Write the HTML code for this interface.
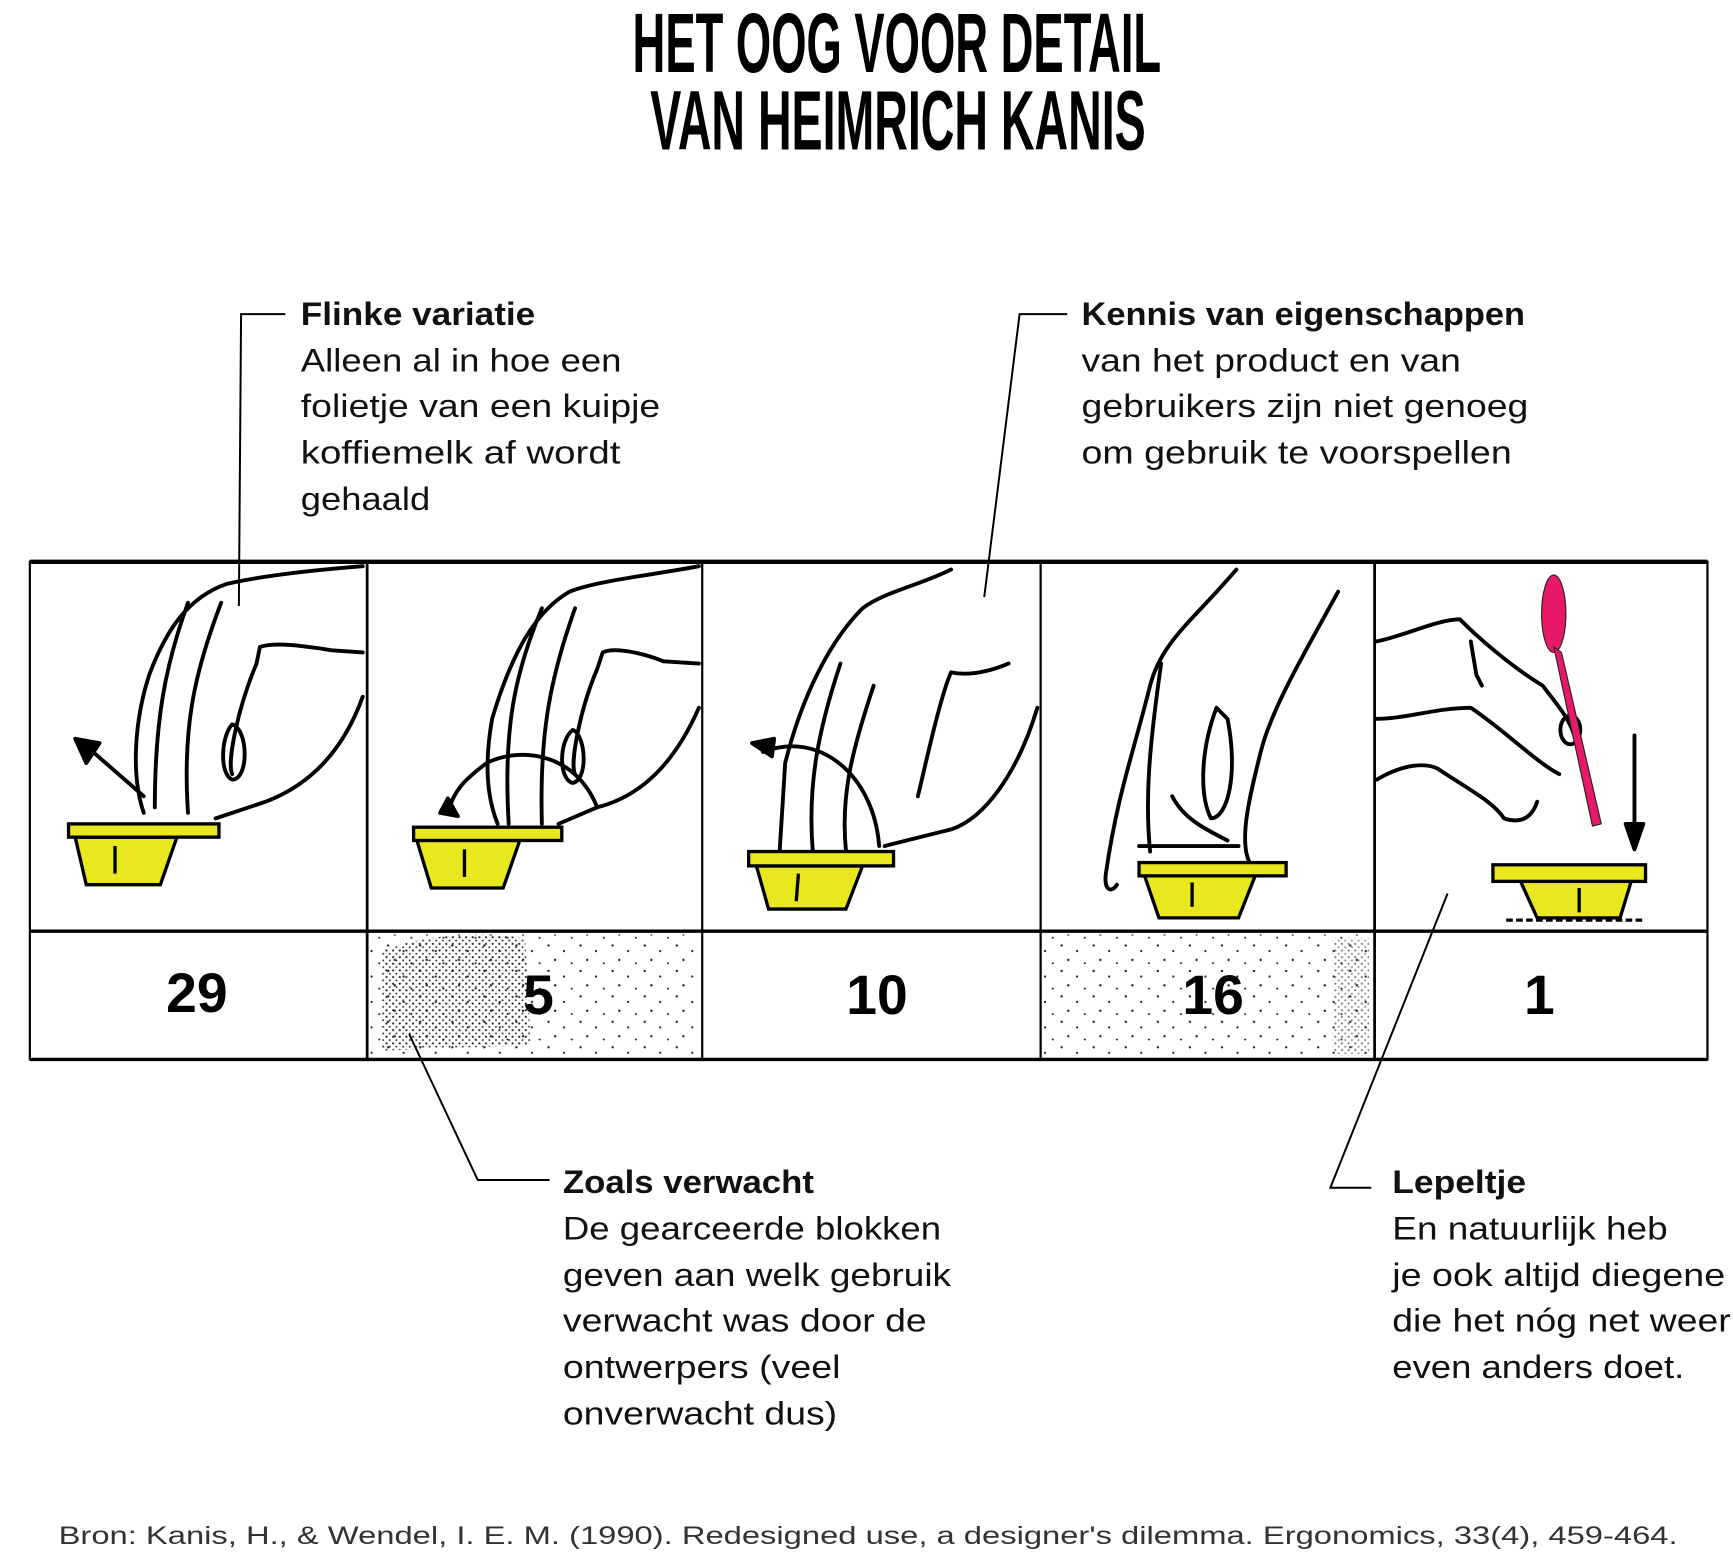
<!DOCTYPE html>
<html><head><meta charset="utf-8"><style>
html,body{margin:0;padding:0;background:#fff;width:1734px;height:1552px;overflow:hidden}
svg{display:block}
.t{font-family:"Liberation Sans",sans-serif;font-size:29px;fill:#111}
.b{font-weight:bold}
.n{font-family:"Liberation Sans",sans-serif;font-weight:bold;font-size:50px;fill:#000;text-anchor:middle}
.h{fill:none;stroke:#000;stroke-width:3.5;stroke-linecap:round;stroke-linejoin:round}
.l{fill:none;stroke:#000;stroke-width:1.8}
</style></head><body>
<svg width="1734" height="1552" viewBox="0 0 1568 1403.4" preserveAspectRatio="none" xmlns="http://www.w3.org/2000/svg">
<defs>
<pattern id="dense" width="6" height="6" patternUnits="userSpaceOnUse">
<circle cx="1.5" cy="1.5" r="1" fill="#222"/><circle cx="4.5" cy="4.5" r="0.9" fill="#333"/>
</pattern>
<pattern id="sparse" width="29" height="23" patternUnits="userSpaceOnUse">
<circle cx="3" cy="4" r="1.1" fill="#222"/><circle cx="17" cy="9" r="1" fill="#222"/><circle cx="9" cy="17" r="1.1" fill="#222"/><circle cx="24" cy="20" r="0.9" fill="#222"/>
</pattern>
</defs>
<!-- Title -->
<text x="811" y="65" text-anchor="middle" textLength="478" lengthAdjust="spacingAndGlyphs" style="font-family:'Liberation Sans Narrow','Liberation Sans',sans-serif;font-weight:bold;font-size:76px">HET OOG VOOR DETAIL</text>
<text x="812" y="135" text-anchor="middle" textLength="448" lengthAdjust="spacingAndGlyphs" style="font-family:'Liberation Sans Narrow','Liberation Sans',sans-serif;font-weight:bold;font-size:76px">VAN HEIMRICH KANIS</text>

<!-- Flinke variatie -->
<text class="t b" x="272" y="294" textLength="212" lengthAdjust="spacingAndGlyphs">Flinke variatie</text>
<text class="t" x="272" y="336" textLength="290" lengthAdjust="spacingAndGlyphs">Alleen al in hoe een</text>
<text class="t" x="272" y="377" textLength="325" lengthAdjust="spacingAndGlyphs">folietje van een kuipje</text>
<text class="t" x="272" y="419" textLength="289" lengthAdjust="spacingAndGlyphs">koffiemelk af wordt</text>
<text class="t" x="272" y="461" textLength="117" lengthAdjust="spacingAndGlyphs">gehaald</text>
<!-- Kennis -->
<text class="t b" x="978" y="294" textLength="401" lengthAdjust="spacingAndGlyphs">Kennis van eigenschappen</text>
<text class="t" x="978" y="336" textLength="343" lengthAdjust="spacingAndGlyphs">van het product en van</text>
<text class="t" x="978" y="377" textLength="404" lengthAdjust="spacingAndGlyphs">gebruikers zijn niet genoeg</text>
<text class="t" x="978" y="419" textLength="389" lengthAdjust="spacingAndGlyphs">om gebruik te voorspellen</text>
<!-- Zoals -->
<text class="t b" x="509" y="1079" textLength="227" lengthAdjust="spacingAndGlyphs">Zoals verwacht</text>
<text class="t" x="509" y="1121" textLength="342" lengthAdjust="spacingAndGlyphs">De gearceerde blokken</text>
<text class="t" x="509" y="1163" textLength="351" lengthAdjust="spacingAndGlyphs">geven aan welk gebruik</text>
<text class="t" x="509" y="1204" textLength="329" lengthAdjust="spacingAndGlyphs">verwacht was door de</text>
<text class="t" x="509" y="1246" textLength="251" lengthAdjust="spacingAndGlyphs">ontwerpers (veel</text>
<text class="t" x="509" y="1288" textLength="248" lengthAdjust="spacingAndGlyphs">onverwacht dus)</text>
<!-- Lepeltje -->
<text class="t b" x="1259" y="1079" textLength="121" lengthAdjust="spacingAndGlyphs">Lepeltje</text>
<text class="t" x="1259" y="1121" textLength="249" lengthAdjust="spacingAndGlyphs">En natuurlijk heb</text>
<text class="t" x="1259" y="1163" textLength="301" lengthAdjust="spacingAndGlyphs">je ook altijd diegene</text>
<text class="t" x="1259" y="1204" textLength="306" lengthAdjust="spacingAndGlyphs">die het nóg net weer</text>
<text class="t" x="1259" y="1246" textLength="264" lengthAdjust="spacingAndGlyphs">even anders doet.</text>
<!-- Source -->
<text x="53" y="1396" textLength="1464" lengthAdjust="spacingAndGlyphs" style="font-family:'Liberation Sans',sans-serif;font-size:23px;fill:#333">Bron: Kanis, H., &amp; Wendel, I. E. M. (1990). Redesigned use, a designer's dilemma. Ergonomics, 33(4), 459-464.</text>

<!-- shaded cells -->
<rect x="333" y="845" width="299" height="111" fill="url(#sparse)"/>
<path d="M345,860 C380,845 450,840 475,850 L480,945 L345,950 Z" fill="url(#dense)"/>
<rect x="942" y="845" width="298" height="111" fill="url(#sparse)"/>
<rect x="1205" y="848" width="33" height="107" fill="url(#dense)" opacity="0.6"/>

<!-- table -->
<g stroke="#000" fill="none">
<line x1="27" y1="508" x2="1544" y2="508" stroke-width="4"/>
<line x1="27" y1="842" x2="1544" y2="842" stroke-width="3"/>
<line x1="27" y1="958" x2="1544" y2="958" stroke-width="3"/>
<line x1="27" y1="507" x2="27" y2="959" stroke-width="2"/>
<line x1="1544" y1="507" x2="1544" y2="959" stroke-width="2"/>
<line x1="332" y1="507" x2="332" y2="959" stroke-width="2.5"/>
<line x1="635" y1="507" x2="635" y2="959" stroke-width="2"/>
<line x1="941" y1="507" x2="941" y2="959" stroke-width="2"/>
<line x1="1243" y1="507" x2="1243" y2="959" stroke-width="2.5"/>
</g>
<text class="n" x="178" y="915">29</text>
<text class="n" x="487" y="917">5</text>
<text class="n" x="793" y="917">10</text>
<text class="n" x="1097" y="917">16</text>
<text class="n" x="1392" y="917">1</text>

<!-- hands panel 1 -->
<g class="h">
<path d="M328,512 C290,515 240,520 205,528 C170,540 150,570 135,610 C122,650 118,700 130,735"/>
<path d="M170,545 C150,600 140,650 140,730"/>
<path d="M200,545 C175,610 165,660 170,735"/>
<path d="M328,590 L300,588 C280,585 250,580 235,585 L232,600 C215,640 205,690 210,700"/>
<path d="M328,630 C310,680 280,710 240,725 L195,740"/>
<path d="M210,655 C200,665 198,700 210,705 C225,705 225,660 210,655 Z"/>
<path d="M130,720 L75,672"/><path d="M68,668 L90,672 L78,690 Z" fill="#000"/>
</g>
<!-- panel 2 -->
<g class="h">
<path d="M632,512 C590,520 540,525 515,535 C480,555 460,600 445,650 C438,690 440,720 450,745"/>
<path d="M490,550 C465,610 455,660 460,745"/>
<path d="M520,550 C495,620 488,670 490,745"/>
<path d="M632,600 L600,598 C580,590 555,585 545,590 L540,605 C525,640 515,690 520,700"/>
<path d="M632,640 C610,690 580,720 540,730 L505,745"/>
<path d="M518,660 C505,670 505,705 518,708 C532,705 530,665 518,660 Z"/>
<path d="M540,730 C520,680 470,675 440,690 C420,705 410,715 405,735"/>
<path d="M398,735 L405,722 L414,738 Z" fill="#000"/>
</g>
<!-- panel 3 -->
<g class="h">
<path d="M860,515 C830,530 800,535 780,550 C750,580 725,630 710,690 L705,770"/>
<path d="M760,600 C740,660 730,710 735,770"/>
<path d="M790,620 C770,680 760,720 765,770"/>
<path d="M912,600 C900,605 880,612 860,608 C850,630 835,700 830,720"/>
<path d="M938,640 C920,700 890,740 860,750 L800,765"/>
<path d="M690,680 C740,660 790,700 795,765"/>
<path d="M680,672 L700,668 L698,684 Z" fill="#000"/>
</g>
<!-- panel 4 -->
<g class="h">
<path d="M1118,515 C1080,560 1050,580 1040,620 C1025,680 1010,720 1000,790 C998,805 1005,808 1010,800"/>
<path d="M1210,535 C1180,590 1150,640 1140,680 C1130,720 1120,760 1130,780"/>
<path d="M1050,600 C1040,670 1035,720 1040,770"/>
<path d="M1100,640 C1085,680 1085,720 1095,740 C1110,740 1120,700 1110,650 Z"/>
<path d="M1030,765 L1120,765"/>
<path d="M1060,720 C1070,740 1090,750 1110,760"/>
</g>
<!-- panel 5 -->
<g class="h">
<path d="M1245,580 C1270,575 1300,560 1320,560 C1340,580 1370,605 1395,620 C1410,640 1420,650 1425,670"/>
<path d="M1245,705 C1270,690 1290,690 1300,695 C1330,715 1350,725 1360,740 C1375,745 1385,740 1390,725"/>
<path d="M1245,650 C1270,650 1300,640 1330,640 C1360,660 1390,690 1410,700"/>
<path d="M1330,580 L1335,610 L1340,620"/>
<ellipse cx="1420" cy="660" rx="9" ry="13"/>
<path d="M1478,665 L1478,765"/>
<path d="M1470,745 L1478,768 L1486,745 Z" fill="#000"/>
</g>
<g fill="#e8186a" stroke="#222" stroke-width="1">
<ellipse cx="1405" cy="555" rx="11" ry="35"/>
<path d="M1405,585 L1412,590 L1448,745 L1440,747 Z"/>
</g>

<!-- cups -->
<g stroke="#000" stroke-width="3" fill="#e9e71f">
<path d="M68,757 L160,757 L145,800 L78,800 Z"/><rect x="62" y="745" width="136" height="12"/>
<line x1="104" y1="765" x2="104" y2="790"/>
<path d="M377,760 L470,760 L455,803 L390,803 Z"/><rect x="374" y="748" width="134" height="12"/>
<line x1="420" y1="768" x2="420" y2="793"/>
<path d="M684,783 L780,783 L765,822 L695,822 Z"/><rect x="677" y="770" width="131" height="13"/>
<line x1="722" y1="790" x2="720" y2="815"/>
<path d="M1035,792 L1135,792 L1120,830 L1048,830 Z"/><rect x="1030" y="780" width="133" height="12"/>
<line x1="1078" y1="798" x2="1078" y2="820"/>
<path d="M1375,797 L1475,797 L1465,830 L1390,830 Z"/><rect x="1350" y="782" width="138" height="15"/>
<line x1="1428" y1="803" x2="1428" y2="825"/>
</g>
<line x1="1362" y1="832" x2="1488" y2="832" stroke="#000" stroke-width="3" stroke-dasharray="6,3"/>

<!-- leaders -->
<polyline class="l" points="258,284 218,284 216,548"/>
<polyline class="l" points="965,284 922,284 890,540"/>
<polyline class="l" points="370,935 432,1067 497,1067"/>
<polyline class="l" points="1309,808 1203,1074 1240,1074"/>
</svg>
</body></html>
